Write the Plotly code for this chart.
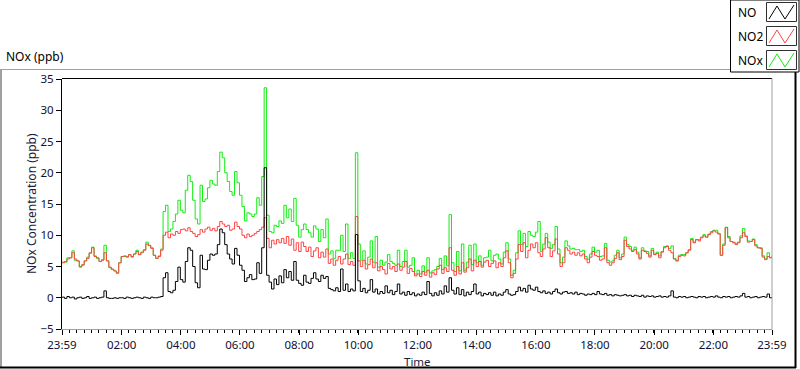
import pandas as pd
import plotly.graph_objects as go

# ---------------- data (5-minute samples, 23:59 -> 23:59) ----------------
start_time = "2015-06-01 23:59"
n_points = 289

series_names = ["NO", "NO2", "NOx"]

no_ppb = (
    [0.1, -0.1, 0.2, 0.0, 0.1, -0.2, 0.0, 0.1, -0.1, 0.0, 0.2, -0.1,
     0.0, 0.1, -0.1, 0.0, 0.1, 1.1, 0.0, -0.1, -0.1, 0.0, -0.1, 0.0,
     0.0, -0.1, 0.1, 0.0, -0.1, 0.0, 0.1, 0.0, -0.1, 0.1, 0.0, -0.1,
     0.1, 0.0, 0.0, 0.1, 0.2]
    + [3.2, 4.0, 1.0, 0.8, 1.2, 2.6, 4.9]
    + [2.9, 2.5, 5.8, 8.0, 7.6, 5.0, 2.4, 1.6, 6.8, 4.6, 4.5, 6.0]
    + [7.0, 6.8, 7.0, 8.5, 11.0, 10.4, 8.5, 7.0, 6.2, 5.4, 7.9, 6.8]
    + [5.2, 4.4, 2.6, 3.2, 3.7, 2.9, 3.0, 5.6, 3.9, 8.0, 20.8, 3.6]
    + [2.5, 1.4, 3.0, 2.1, 3.5, 2.4, 4.5, 3.2, 4.2, 2.8, 5.8, 2.8]
    + [2.3, 2.0, 3.6, 2.5, 2.3, 3.1, 4.0, 3.0, 2.6, 3.6, 3.1, 3.4]
    + [1.5, 1.3, 1.1, 1.6, 1.0, 4.6, 1.2, 2.2, 1.0, 1.4, 1.1, 10.1]
    + [2.7, 1.0, 1.5, 0.8, 1.2, 2.9, 0.9, 1.4, 0.6, 1.0, 0.7, 1.9]
    + [0.8, 1.2, 0.5, 1.0, 2.2, 0.6, 0.9, 0.4, 1.0, 0.5, 0.8, 0.3]
    + [0.6, 0.4, 0.9, 0.5, 2.6, 0.7, 0.3, 0.8, 0.4, 1.1, 0.6, 1.9]
    + [0.9, 3.2, 1.2, 0.6, 1.6, 0.5, 1.3, 0.3, 0.9, 0.5, 1.0, 2.2]
    + [0.6, 0.9, 0.3, 0.7, 0.5, 0.8, 0.4, 0.9, 0.3, 0.6, 0.4, 0.9]
    + [1.3, 0.6, 0.4, 0.5, 1.0, 1.7, 1.1, 1.5, 0.9, 2.0, 1.4, 1.2]
    + [1.7, 1.0, 0.8, 1.1, 0.7, 0.9, 0.6, 1.0, 1.4, 0.8, 0.6, 0.9]
    + [1.0, 0.7, 0.8, 0.6, 0.9, 0.5, 0.7, 0.6, 0.4, 0.6, 0.5, 0.7]
    + [0.5]
    + [1.0, 0.6, 0.5, 0.7, 0.4, 0.5, 0.3, 0.5, 0.4, 0.3,
       0.4, 0.5, 0.3, 0.4, 0.2, 0.4, 0.3, 0.2, 0.4, 0.1,
       0.3, 0.2, 0.3, 0.1, 0.2, 0.3, 0.1, 0.2, 0.1, 0.3,
       1.1, 0.1, 0.0, 0.2, 0.1, 0.2, 0.0, 0.1, 0.2, 0.1,
       0.0, 0.2, 0.1, 0.2, 0.0, 0.1, 0.2, 0.1, 0.3, 0.1,
       0.0, 0.2, 0.1, 0.2, 0.0, 0.1, 0.2, 0.1, 0.3, 0.7,
       0.1, 0.2, 0.0, 0.1, 0.2, 0.0, 0.1, 0.2, 0.1, 0.6,
       0.0, 0.1]
)

no2_ppb = (
    [5.6, 5.8, 6.2, 6.4, 7.2, 6.2, 5.9, 4.9, 5.3, 5.9, 6.3, 7.2]
    + [8.0, 6.6, 6.4, 5.8, 6.0, 7.2, 5.9, 4.9, 4.6, 4.3, 4.0, 5.6]
    + [6.6, 6.7, 6.5, 6.9, 6.6, 7.0, 7.4, 6.9, 7.3, 7.6, 8.6, 8.4]
    + [7.9, 6.8, 6.3, 6.6, 7.6, 10.0, 10.5, 9.6, 10.2, 10.0, 10.6, 10.3]
    + [10.9, 11.0, 10.7, 11.2, 10.6, 10.3, 9.8, 10.1, 10.9, 10.5, 11.0, 11.3]
    + [10.8, 11.1, 10.7, 11.4, 12.2, 11.8, 11.4, 11.6, 10.8, 11.0, 12.1, 11.4]
    + [11.0, 10.0, 9.6, 10.2, 9.8, 10.0, 10.3, 10.6, 10.9, 11.3, 12.8, 9.5]
    + [8.0, 9.2, 8.6, 9.3, 8.8, 9.5, 8.7, 9.8, 8.4, 9.4, 7.6, 8.8]
    + [7.4, 8.9, 8.2, 7.4, 8.1, 6.6, 7.5, 8.0, 6.4, 7.3, 6.5, 7.8]
    + [5.5, 6.2, 5.2, 6.0, 6.6, 5.4, 6.2, 7.0, 5.3, 5.8, 5.2, 13.0]
    + [5.9, 5.0, 6.0, 4.6, 5.3, 6.2, 4.8, 5.6, 4.3, 5.0, 4.5, 3.8]
    + [5.5, 4.6, 5.0, 4.2, 5.4, 4.4, 4.9, 5.8, 3.9, 4.7, 4.2, 3.5]
    + [3.8, 3.4, 4.2, 3.6, 4.4, 3.3, 4.0, 3.7, 4.6, 5.2, 3.9, 4.8]
    + [4.2, 8.0, 4.4, 3.6, 5.0, 3.8, 5.6, 4.1, 4.8, 6.2, 4.3, 6.0]
    + [5.0, 5.8, 4.9, 5.7, 6.0, 5.0, 5.5, 5.9, 4.8, 5.6, 5.0, 6.4]
    + [7.5, 5.6, 3.2, 3.9, 6.2, 8.5, 7.4, 8.8, 6.4, 7.6, 8.6, 8.0]
    + [8.8, 7.2, 6.6, 7.8, 9.6, 8.0, 6.6, 7.5, 9.4, 7.0, 5.0, 5.6]
    + [8.0, 7.6, 7.0, 7.3, 6.8, 7.2, 6.7, 7.0, 6.2, 5.6, 6.5, 7.4]
    + [6.8]
    + [6.6, 6.0, 6.2, 8.0, 5.6, 5.2, 5.6, 6.3, 7.2, 6.1,
       6.6, 9.2, 8.2, 7.8, 7.4, 7.7, 7.0, 6.2, 7.6, 7.4,
       7.1, 6.5, 7.6, 6.9, 7.1, 6.4, 7.3, 8.0, 8.2, 7.6,
       7.2, 6.2, 5.9, 6.6, 6.8, 6.7, 7.2, 7.6, 9.3, 8.8,
       9.3, 9.1, 9.6, 9.9, 9.7, 10.1, 10.4, 10.7, 10.5, 10.2,
       6.8, 8.4, 11.2, 9.6, 9.0, 8.8, 8.5, 8.8, 9.6, 10.4,
       9.8, 8.9, 9.0, 9.3, 8.3, 8.0, 7.9, 6.5, 6.1, 6.6,
       6.4, 6.6]
)

nox_ppb = (
    [5.7, 5.7, 6.4, 6.4, 7.5, 6.0, 5.9, 5.0, 5.2, 5.9, 6.5, 7.1,
     8.1, 6.7, 6.3, 5.8, 6.1, 8.4, 5.9, 4.8, 4.5, 4.3, 3.9, 5.6,
     6.6, 6.6, 6.6, 6.9, 6.5, 7.0, 7.6, 6.9, 7.2, 7.7, 8.9, 8.3,
     8.0, 6.8, 6.3, 6.7, 7.8]
    + [13.8, 14.8, 10.6, 11.0, 12.2, 13.4, 15.6]
    + [14.0, 13.6, 17.2, 19.6, 18.6, 15.6, 12.6, 11.8, 18.0, 15.4, 15.8, 17.6]
    + [18.8, 18.2, 18.0, 20.2, 23.3, 22.4, 20.0, 18.6, 17.0, 16.4, 20.2, 18.4]
    + [16.4, 14.6, 12.3, 13.6, 13.4, 13.0, 13.4, 16.0, 14.8, 19.4, 33.6, 13.2]
    + [10.6, 10.4, 11.6, 11.4, 12.3, 11.9, 14.8, 12.8, 14.2, 12.2, 15.9, 11.6]
    + [9.7, 10.9, 11.8, 10.9, 10.4, 9.7, 11.5, 11.0, 9.0, 10.9, 9.6, 12.6]
    + [7.0, 7.5, 6.3, 7.6, 7.6, 10.0, 7.4, 11.8, 6.3, 7.2, 6.3, 23.2]
    + [8.6, 6.0, 7.5, 5.4, 6.5, 9.1, 5.7, 9.8, 4.9, 6.0, 5.2, 5.7]
    + [6.9, 5.8, 5.5, 5.2, 7.6, 5.0, 5.8, 7.6, 4.9, 5.2, 6.4, 3.8]
    + [4.4]
    + [3.8, 5.1, 4.1, 6.4, 4.0, 4.3, 4.5, 5.0, 6.3, 4.5,
       6.7, 5.1, 13.3, 5.6, 4.2, 7.4, 4.3, 8.6, 4.4, 5.7,
       8.4, 5.3, 8.6, 5.6, 6.7, 5.2, 6.4, 6.5, 7.6, 5.9,
       6.8, 7.0, 6.2, 5.4, 7.3, 8.8, 6.2, 3.6, 4.4, 7.2,
       10.7, 8.5, 10.3, 8.2, 10.6, 10.0, 9.8, 10.5, 12.2, 7.4,
       8.6, 10.3, 8.9, 7.9, 8.5, 11.4, 7.8, 5.6, 6.5, 9.1,
       8.3, 7.8, 7.9, 7.7, 7.7, 7.4, 7.6, 6.6, 6.2, 7.0,
       8.1, 7.3]
    + [7.6, 6.6, 6.7, 8.7, 6.0, 5.7, 5.9, 6.8, 7.6, 6.4,
       7.0, 9.7, 8.5, 8.2, 7.6, 8.1, 7.3, 6.4, 8.0, 7.5,
       7.4, 6.7, 7.9, 7.0, 7.3, 6.7, 7.4, 8.2, 8.3, 7.9,
       8.3, 6.3, 5.9, 6.8, 6.9, 6.9, 7.2, 7.7, 9.5, 8.9,
       9.3, 9.3, 9.7, 10.1, 9.7, 10.2, 10.6, 10.8, 10.8, 10.3,
       6.8, 8.6, 11.3, 9.8, 9.0, 8.9, 8.7, 8.9, 9.9, 11.1,
       9.9, 9.1, 9.0, 9.4, 8.5, 8.0, 8.0, 6.7, 6.2, 7.2,
       6.4, 6.7]
)

tick_times = ["2015-06-01 23:59", "2015-06-02 02:00", "2015-06-02 04:00",
              "2015-06-02 06:00", "2015-06-02 08:00", "2015-06-02 10:00",
              "2015-06-02 12:00", "2015-06-02 14:00", "2015-06-02 16:00",
              "2015-06-02 18:00", "2015-06-02 20:00", "2015-06-02 22:00",
              "2015-06-02 23:59"]
tick_labels = ["23:59", "02:00", "04:00", "06:00", "08:00", "10:00", "12:00",
               "14:00", "16:00", "18:00", "20:00", "22:00", "23:59"]
y_ticks = [-5, 0, 5, 10, 15, 20, 25, 30, 35]

for nm, arr in (("NO", no_ppb), ("NO2", no2_ppb), ("NOx", nox_ppb)):
    if len(arr) != n_points:
        raise ValueError(f"{nm} has {len(arr)} values")

times = pd.date_range(start_time, periods=n_points, freq="5min")

# ---------------- styling ----------------
colors = {"NO": "#000000", "NO2": "#ff4444", "NOx": "#11ee11"}
FONT = "Segoe UI, Noto Sans, DejaVu Sans, sans-serif"

W, H = 800, 369
L, R, T, B = 62, 28, 79, 40
PW, PH = W - L - R, H - T - B


def px(xp):
    return (xp - L) / PW


def py(yp):
    return (H - B - yp) / PH


fig = go.Figure()
values = {"NO": no_ppb, "NO2": no2_ppb, "NOx": nox_ppb}
for name in ["NOx", "NO2", "NO"]:
    fig.add_trace(go.Scatter(
        x=times, y=values[name], mode="lines", name=name,
        line=dict(color=colors[name], width=1, shape="hv"),
        showlegend=False, hoverinfo="x+y+name"))

shapes = []
# plot-area border: top black, right gray
shapes.append(dict(type="line", xref="paper", yref="paper", x0=0, x1=1,
                   y0=py(78.5), y1=py(78.5), line=dict(color="#000", width=1)))
shapes.append(dict(type="line", xref="paper", yref="paper", x0=px(772), x1=px(772),
                   y0=py(78.5), y1=py(329.5), line=dict(color="#a0a0a0", width=1)))
# outer frame
shapes.append(dict(type="line", xref="paper", yref="paper", x0=px(0), x1=px(730.5),
                   y0=py(69.5), y1=py(69.5), line=dict(color="#a0a0a0", width=1)))
shapes.append(dict(type="line", xref="paper", yref="paper", x0=px(1), x1=px(1),
                   y0=py(69), y1=py(368), line=dict(color="#a0a0a0", width=2)))
shapes.append(dict(type="line", xref="paper", yref="paper", x0=px(0), x1=px(796),
                   y0=py(367.5), y1=py(367.5), line=dict(color="#000", width=2)))
shapes.append(dict(type="line", xref="paper", yref="paper", x0=px(795.5), x1=px(795.5),
                   y0=py(71.5), y1=py(368), line=dict(color="#000", width=2)))
# legend box
shapes.append(dict(type="rect", xref="paper", yref="paper", x0=px(730.5), x1=px(799),
                   y0=py(0), y1=py(72), line=dict(color="#000", width=1),
                   fillcolor="#ffffff"))
annotations = []
for i, name in enumerate(series_names):
    oy = 24 * i
    shapes.append(dict(type="rect", xref="paper", yref="paper",
                       x0=px(766.5), x1=px(796.5), y0=py(2.5 + oy), y1=py(21.5 + oy),
                       line=dict(color="#303030", width=1), fillcolor="#ffffff"))
    pts = [(769, 19 + oy), (777, 6 + oy), (785, 19 + oy), (794, 5 + oy)]
    path = "M " + " L ".join(f"{px(a):.5f},{py(b):.5f}" for a, b in pts)
    shapes.append(dict(type="path", xref="paper", yref="paper", path=path,
                       line=dict(color=colors[name], width=1)))
    annotations.append(dict(text=name, xref="paper", yref="paper",
                            x=px(736), y=py(12.5 + oy), xanchor="left",
                            yanchor="middle", showarrow=False,
                            font=dict(family=FONT, size=12, color="#000")))

annotations.append(dict(text="NOx (ppb)", xref="paper", yref="paper",
                        x=px(4), y=py(57), xanchor="left", yanchor="middle",
                        showarrow=False, font=dict(family=FONT, size=12, color="#000")))
annotations.append(dict(text="NOx Concentration (ppb)", xref="paper", yref="paper",
                        x=px(31), y=py(204), xanchor="center", yanchor="middle",
                        textangle=-90, showarrow=False,
                        font=dict(family=FONT, size=12, color="#1c1c38")))
annotations.append(dict(text="Time", xref="paper", yref="paper",
                        x=px(417), y=py(361), xanchor="center", yanchor="middle",
                        showarrow=False, font=dict(family=FONT, size=11.5, color="#1c1c38")))

fig.update_layout(
    width=W, height=H,
    margin=dict(l=L, r=R, t=T, b=B, pad=0),
    paper_bgcolor="#ffffff", plot_bgcolor="#ffffff",
    showlegend=False,
    shapes=shapes, annotations=annotations,
    xaxis=dict(
        type="date", range=[tick_times[0], tick_times[-1]],
        tickmode="array", tickvals=tick_times, ticktext=tick_labels,
        ticks="outside", ticklen=5, tickcolor="#000", tickwidth=1,
        showgrid=False, zeroline=False,
        showline=True, linecolor="#a0a0a0", linewidth=1,
        tickfont=dict(family=FONT, size=11.5, color="#101030"),
        minor=dict(ticks="outside", ticklen=3, tickcolor="#000",
                   dtick=15 * 60 * 1000, tick0=tick_times[0], showgrid=False),
    ),
    yaxis=dict(
        range=[-5, 35], tickmode="array", tickvals=y_ticks,
        ticks="outside", ticklen=5, tickcolor="#000", tickwidth=1,
        showgrid=False, zeroline=False,
        showline=True, linecolor="#000", linewidth=1,
        tickfont=dict(family=FONT, size=11.5, color="#101030"),
    ),
)

fig.write_html("out.html",
               config={"displayModeBar": False},
               post_script="document.body.style.margin='0px';"
                           "document.body.style.padding='0px';"
                           "document.body.style.overflow='hidden';")
